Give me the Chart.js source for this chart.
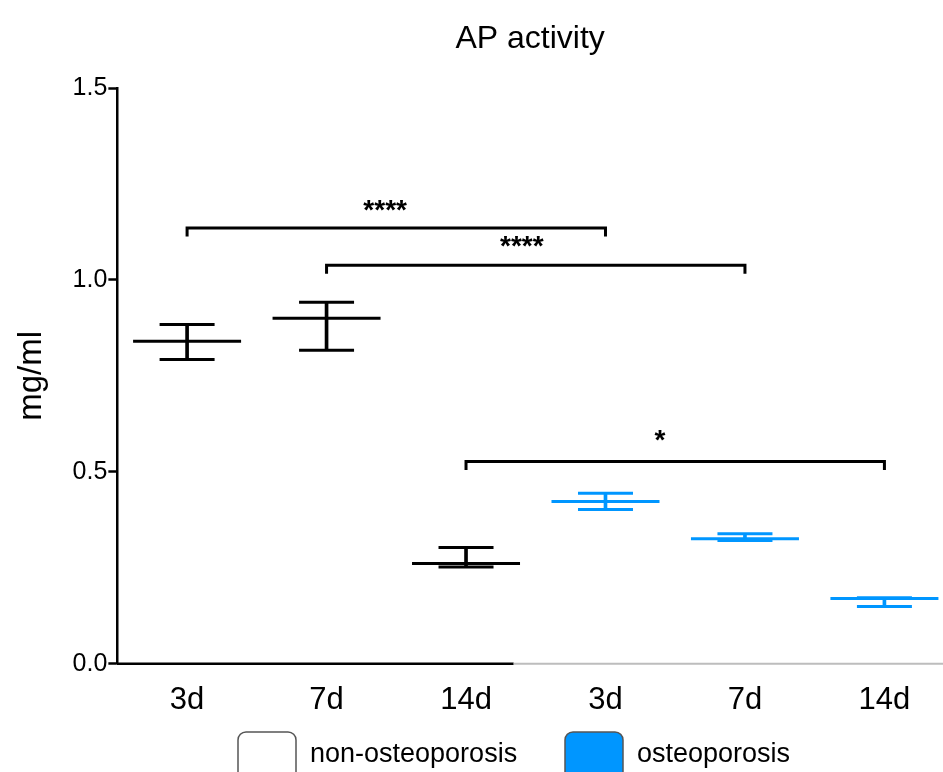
<!DOCTYPE html>
<html>
<head>
<meta charset="utf-8">
<script src="https://cdn.jsdelivr.net/npm/chart.js@4.4.1/dist/chart.umd.min.js"></script>
<style>
  html, body { margin: 0; padding: 0; background: #fff; }
  #wrap { width: 943px; height: 772px; }
</style>
</head>
<body>
<div id="wrap"><canvas id="c" width="943" height="772"></canvas></div>
<script>
// ---- data ----
const categories = ['3d', '7d', '14d', '3d', '7d', '14d'];
const groups = ['non-osteoporosis', 'non-osteoporosis', 'non-osteoporosis', 'osteoporosis', 'osteoporosis', 'osteoporosis'];
const means = [0.840, 0.900, 0.261, 0.423, 0.326, 0.170];
const upper = [0.884, 0.942, 0.303, 0.444, 0.339, 0.172];
const lower = [0.793, 0.817, 0.252, 0.402, 0.321, 0.149];
const yTicks = [0, 0.5, 1.0, 1.5];

// significance brackets (category indices)
const bracketFrom = [0, 1, 2];
const bracketTo = [3, 4, 5];
const bracketY = [1.135, 1.038, 0.527];
const bracketLabel = ['****', '****', '*'];
const bracketLabelX = [1.42, 2.40, 3.39];
const bracketLabelY = [1.18, 1.085, 0.58];

const colorMap = { 'non-osteoporosis': '#000000', 'osteoporosis': 'rgb(0,150,255)' };
const legendItems = ['non-osteoporosis', 'osteoporosis'];
const pointColors = groups.map(g => colorMap[g]);
const FONT = "'Liberation Sans', Arial, Helvetica, sans-serif";

const datasets = [];
// mean lines
datasets.push({
  type: 'scatter', label: 'mean',
  data: means.map((v, i) => ({ x: i, y: v })),
  pointStyle: 'line', pointRadius: 54, pointBorderWidth: 3,
  pointBorderColor: pointColors, pointBackgroundColor: pointColors,
  showLine: false, clip: false
});
// caps
[upper, lower].forEach((arr, k) => {
  datasets.push({
    type: 'scatter', label: k ? 'lower' : 'upper',
    data: arr.map((v, i) => ({ x: i, y: v })),
    pointStyle: 'line', pointRadius: 27.5, pointBorderWidth: 3,
    pointBorderColor: pointColors, pointBackgroundColor: pointColors,
    showLine: false, clip: false
  });
});
// vertical error lines
datasets.push({
  type: 'bar', label: 'err',
  data: means.map((v, i) => ({ x: i, y: [lower[i], upper[i]] })),
  backgroundColor: pointColors, borderWidth: 0, barThickness: 3,
  grouped: false
});
// brackets
const tickDrop = 0.022;
bracketFrom.forEach((f, i) => {
  const t = bracketTo[i], y = bracketY[i];
  datasets.push({
    type: 'line', label: 'bracket' + i,
    data: [{ x: f, y: y - tickDrop }, { x: f, y: y }, { x: t, y: y }, { x: t, y: y - tickDrop }],
    borderColor: '#000', borderWidth: 3, pointRadius: 0, fill: false,
    tension: 0, borderJoinStyle: 'miter', clip: false
  });
});

const overlay = {
  id: 'overlay',
  afterDraw(chart) {
    const ctx = chart.ctx, x = chart.scales.x, y = chart.scales.y, ca = chart.chartArea;
    ctx.save();
    // x axis line (dark first part, grey after)
    const split = ca.left + (ca.right - ca.left) * 0.48;
    ctx.lineWidth = 2.5; ctx.strokeStyle = '#000';
    ctx.beginPath(); ctx.moveTo(ca.left - 1, ca.bottom); ctx.lineTo(split, ca.bottom); ctx.stroke();
    ctx.lineWidth = 2; ctx.strokeStyle = '#bdbdbd';
    ctx.beginPath(); ctx.moveTo(split, ca.bottom); ctx.lineTo(ca.right, ca.bottom); ctx.stroke();
    // title
    ctx.fillStyle = '#000';
    ctx.font = '32px ' + FONT;
    ctx.textAlign = 'center'; ctx.textBaseline = 'alphabetic';
    ctx.fillText('AP activity', (ca.left + ca.right) / 2, 48);
    // bracket labels
    ctx.font = 'bold 28px ' + FONT;
    ctx.textBaseline = 'middle';
    bracketLabel.forEach((t, i) => {
      ctx.fillText(t, x.getPixelForValue(bracketLabelX[i]), y.getPixelForValue(bracketLabelY[i]));
    });
    // legend
    ctx.font = '27px ' + FONT;
    ctx.textAlign = 'left';
    const lx = [238, 565], tx = [310, 637];
    legendItems.forEach((name, i) => {
      ctx.beginPath();
      ctx.roundRect(lx[i], 732, 58, 50, 8);
      ctx.fillStyle = name === 'osteoporosis' ? colorMap[name] : '#fff';
      ctx.fill();
      ctx.lineWidth = 1.5; ctx.strokeStyle = '#555';
      ctx.stroke();
      ctx.fillStyle = '#000';
      ctx.fillText(name, tx[i], 755);
    });
    ctx.restore();
  }
};

new Chart(document.getElementById('c'), {
  data: { datasets },
  options: {
    responsive: false, animation: false, events: [],
    layout: { autoPadding: false, padding: { top: 88, bottom: 35, left: 0, right: 0 } },
    plugins: { legend: { display: false }, tooltip: { enabled: false }, title: { display: false } },
    scales: {
      x: {
        type: 'linear', min: -0.5, max: 5.42, offset: false,
        afterBuildTicks: s => { s.ticks = categories.map((c, i) => ({ value: i })); },
        ticks: { callback: v => categories[v], color: '#000', font: { size: 31, family: FONT }, padding: 18, maxRotation: 0, autoSkip: false },
        grid: { display: true, drawOnChartArea: false, drawTicks: false },
        border: { display: false }
      },
      y: {
        min: 0, max: 1.5,
        afterBuildTicks: s => { s.ticks = yTicks.map(v => ({ value: v })); },
        ticks: { callback: v => v.toFixed(1), color: '#000', font: { size: 25, family: FONT }, padding: 1 },
        grid: { drawOnChartArea: false, drawTicks: true, tickLength: 9, tickColor: '#000', tickWidth: 2.5 },
        border: { display: true, color: '#000', width: 2.5 },
        title: { display: true, text: 'mg/ml', color: '#000', font: { size: 33, family: FONT }, padding: { top: 12, bottom: 20 } }
      }
    }
  },
  plugins: [overlay]
});
</script>
</body>
</html>
